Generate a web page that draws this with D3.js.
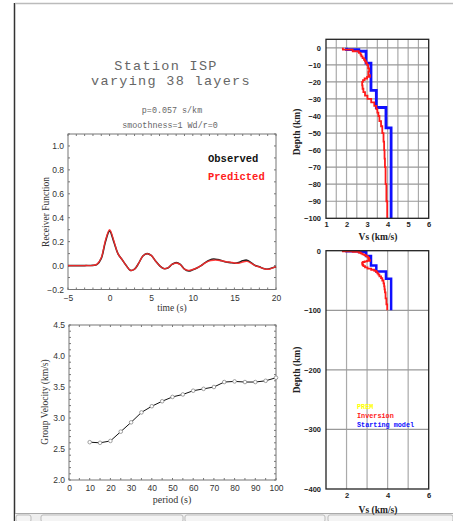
<!DOCTYPE html>
<html>
<head>
<meta charset="utf-8">
<script src="https://cdn.jsdelivr.net/npm/d3@7"></script>
<style>
  html, body { margin: 0; padding: 0; background: #fff; }
  svg { display: block; }
</style>
</head>
<body>
<div id="chart"></div>
<script>
// Receiver function (time in s, amplitude)
const rfTime = [-5,-4,-3,-2,-1.5,-1,-0.5,0,0.5,1,1.5,2,2.5,3,3.5,4,4.5,5,5.5,6,6.5,7,7.5,8,8.5,9,9.5,10,10.5,11,11.5,12,12.5,13,13.5,14,14.5,15,15.5,16,16.5,17,17.5,18,18.5,19,19.5,20];
const rfObserved = [0,0,0,0.002,0.01,0.06,0.2,0.29,0.2,0.1,0.05,0.0,-0.04,-0.03,0.02,0.08,0.1,0.085,0.04,0.0,-0.025,-0.02,0.01,0.025,0.01,-0.03,-0.045,-0.035,-0.02,0.0,0.025,0.045,0.055,0.05,0.04,0.03,0.025,0.02,0.025,0.04,0.045,0.025,0.0,-0.01,-0.025,-0.03,-0.02,-0.01];
const rfPredicted = [0,0,0,0.002,0.012,0.065,0.21,0.3,0.21,0.1,0.05,0.0,-0.04,-0.03,0.02,0.08,0.1,0.085,0.04,0.0,-0.025,-0.02,0.01,0.022,0.008,-0.03,-0.04,-0.033,-0.02,0.0,0.022,0.04,0.045,0.045,0.04,0.032,0.028,0.022,0.02,0.03,0.035,0.02,0.0,-0.012,-0.025,-0.032,-0.022,-0.008];

// Group velocity dispersion
const gvPeriod = [10,15,20,25,30,35,40,45,50,55,60,65,70,75,80,85,90,95,100];
const gvVelocity = [2.61,2.60,2.63,2.78,2.93,3.09,3.19,3.27,3.34,3.38,3.44,3.47,3.50,3.58,3.59,3.58,3.58,3.60,3.65];

// Shear-velocity models: layer top depths (km) and Vs (km/s); last layer ends at modelBottom
const modelBottom = 100;
const startTop = [0,1,2,9,25,35,47];
const startVs = [2.0,2.6,2.95,3.19,3.45,3.92,4.17];
const invTop = [0,1,2,3,4,5,6,7,8,9,10,12,14,16,17,18,19,20,22,24,26,28,30,32,34,36,38,40,43,46,50,55,60,65,70,80,90];
const invVs = [1.82,2.3,2.6,2.68,2.72,2.78,2.85,2.9,2.95,3.0,3.05,3.1,3.06,3.14,3.0,2.88,2.8,2.76,2.78,2.82,2.9,3.02,3.2,3.35,3.45,3.5,3.55,3.6,3.68,3.74,3.8,3.83,3.85,3.87,3.9,3.94,3.98];

const rfYTicks = [-0.2,0,0.2,0.4,0.6,0.8,1.0];
const rfXTicks = [-5,0,5,10,15,20];
const gvYTicks = [2.0,2.5,3.0,3.5,4.0,4.5];
const gvXTicks = [0,10,20,30,40,50,60,70,80,90,100];
const depthTicks1 = [0,-10,-20,-30,-40,-50,-60,-70,-80,-90,-100];
const vsTicks1 = [1,2,3,4,5,6];
const depthTicks2 = [0,-100,-200,-300,-400];
const vsTicks2 = [2,4,6];

const W = 453, H = 521;
const svg = d3.select("#chart").append("svg").attr("width", W).attr("height", H);

const SANS = "'Liberation Sans', Arial, sans-serif";
const SERIF = "'Liberation Serif', 'Times New Roman', serif";
const MONO = "'Liberation Mono', 'Courier New', monospace";

// window frame
svg.append("line").attr("x1", 14.5).attr("x2", 14.5).attr("y1", 3).attr("y2", H).attr("stroke", "#333").attr("stroke-width", 1.5);
svg.append("line").attr("x1", 15).attr("x2", W).attr("y1", 3.5).attr("y2", 3.5).attr("stroke", "#bbb").attr("stroke-width", 1.5);
// bottom status strip
svg.append("rect").attr("x", 15).attr("y", 513).attr("width", W - 15).attr("height", 8).attr("fill", "#eee");
svg.append("line").attr("x1", 15).attr("x2", W).attr("y1", 513.5).attr("y2", 513.5).attr("stroke", "#aaa");
[[16, 15], [41, 142], [185, 140], [328, 125]].forEach(([x, w]) => {
  svg.append("rect").attr("x", x).attr("y", 515).attr("width", w).attr("height", 7).attr("rx", 2)
    .attr("fill", "#f4f4f4").attr("stroke", "#bbb").attr("stroke-width", 1);
});

// Titles
const title = svg.append("g").attr("font-family", MONO).attr("fill", "#666").attr("text-anchor", "middle");
title.append("text").attr("x", 166).attr("y", 70).attr("font-size", 13.5).attr("letter-spacing", 1.3).text("Station ISP");
title.append("text").attr("x", 171).attr("y", 85).attr("font-size", 13.5).attr("letter-spacing", 1.3).text("varying 38 layers");
title.append("text").attr("x", 172).attr("y", 113).attr("font-size", 8.4).text("p=0.057 s/km");
title.append("text").attr("x", 170).attr("y", 128).attr("font-size", 8.4).text("smoothness=1 Wd/r=0");

// generic framed plot with inward ticks
function framedAxes(g, x, y, xt, yt, opts) {
  const [x0, x1] = x.range(), [y0, y1] = y.range();
  g.append("rect").attr("x", x0).attr("y", y1).attr("width", x1 - x0).attr("height", y0 - y1)
    .attr("fill", "none").attr("stroke", opts.frame || "#777").attr("stroke-width", opts.frameWidth || 1);
  const tl = opts.tick || 3;
  xt.forEach(v => {
    g.append("line").attr("x1", x(v)).attr("x2", x(v)).attr("y1", y0).attr("y2", y0 - tl).attr("stroke", "#777");
    g.append("line").attr("x1", x(v)).attr("x2", x(v)).attr("y1", y1).attr("y2", y1 + tl).attr("stroke", "#777");
  });
  yt.forEach(v => {
    g.append("line").attr("x1", x0).attr("x2", x0 + tl).attr("y1", y(v)).attr("y2", y(v)).attr("stroke", "#777");
    g.append("line").attr("x1", x1).attr("x2", x1 - tl).attr("y1", y(v)).attr("y2", y(v)).attr("stroke", "#777");
  });
}

// ---------------- Receiver function panel ----------------
{
  const x = d3.scaleLinear().domain([-5, 20]).range([68, 276]);
  const y = d3.scaleLinear().domain([-0.2, 1.1]).range([289.5, 134]);
  const g = svg.append("g");
  framedAxes(g, x, y, d3.range(-5, 20.01, 1), d3.range(-0.2, 1.101, 0.1), { tick: 2 });
  const xa = g.append("g").attr("transform", "translate(0,289.5)")
    .call(d3.axisBottom(x).tickValues(rfXTicks).tickSize(0).tickPadding(5).tickFormat(d3.format("d")));
  const ya = g.append("g").attr("transform", "translate(68,0)")
    .call(d3.axisLeft(y).tickValues(rfYTicks).tickSize(0).tickPadding(4).tickFormat(d3.format(".1f")));
  [xa, ya].forEach(a => { a.select(".domain").remove(); a.selectAll("text").attr("font-family", SANS).attr("font-size", 8.5).attr("fill", "#333"); });
  g.append("text").attr("x", 172).attr("y", 311).attr("text-anchor", "middle").attr("font-family", SERIF)
    .attr("font-size", 9.5).attr("fill", "#333").text("time (s)");
  g.append("text").attr("transform", "translate(49,212) rotate(-90)").attr("text-anchor", "middle")
    .attr("font-family", SERIF).attr("font-size", 9.5).attr("fill", "#333").text("Receiver Function");

  const line = d3.line().x((d, i) => x(rfTime[i])).y(d => y(d)).curve(d3.curveCatmullRom.alpha(0.5));
  g.append("path").attr("d", line(rfObserved)).attr("fill", "none").attr("stroke", "#222").attr("stroke-width", 1.6);
  g.append("path").attr("d", line(rfPredicted)).attr("fill", "none").attr("stroke", "#ff2a2a").attr("stroke-width", 1.4).attr("opacity", 0.9);

  g.append("text").attr("x", 208).attr("y", 162).attr("font-family", MONO).attr("font-weight", "bold")
    .attr("font-size", 10.5).attr("fill", "#111").text("Observed");
  g.append("text").attr("x", 208).attr("y", 180).attr("font-family", MONO).attr("font-weight", "bold")
    .attr("font-size", 10.5).attr("fill", "#ff2020").text("Predicted");
}

// ---------------- Group velocity panel ----------------
{
  const x = d3.scaleLinear().domain([0, 100]).range([69, 276]);
  const y = d3.scaleLinear().domain([2, 4.5]).range([480, 325]);
  const g = svg.append("g");
  framedAxes(g, x, y, d3.range(0, 100.1, 5), d3.range(2, 4.51, 0.1), { tick: 2 });
  const xa = g.append("g").attr("transform", "translate(0,480)")
    .call(d3.axisBottom(x).tickValues(gvXTicks).tickSize(0).tickPadding(5).tickFormat(d3.format("d")));
  const ya = g.append("g").attr("transform", "translate(69,0)")
    .call(d3.axisLeft(y).tickValues(gvYTicks).tickSize(0).tickPadding(4).tickFormat(d3.format(".1f")));
  [xa, ya].forEach(a => { a.select(".domain").remove(); a.selectAll("text").attr("font-family", SANS).attr("font-size", 8.5).attr("fill", "#333"); });
  g.append("text").attr("x", 172).attr("y", 503).attr("text-anchor", "middle").attr("font-family", SERIF)
    .attr("font-size", 10).attr("fill", "#333").text("period (s)");
  g.append("text").attr("transform", "translate(48,402) rotate(-90)").attr("text-anchor", "middle")
    .attr("font-family", SERIF).attr("font-size", 9.5).attr("fill", "#333").text("Group Velocity (km/s)");

  const line = d3.line().x((d, i) => x(gvPeriod[i])).y(d => y(d));
  g.append("path").attr("d", line(gvVelocity)).attr("fill", "none").attr("stroke", "#111").attr("stroke-width", 1);
  g.selectAll("circle.gv").data(gvVelocity).enter().append("circle")
    .attr("cx", (d, i) => x(gvPeriod[i])).attr("cy", d => y(d)).attr("r", 1.8)
    .attr("fill", "#fff").attr("stroke", "#888").attr("stroke-width", 0.8);
}

// step path for a layered model
function modelPath(x, y, tops, vs) {
  const pts = [];
  tops.forEach((t, i) => {
    const b = i < tops.length - 1 ? tops[i + 1] : modelBottom;
    pts.push([x(vs[i]), y(-t)]);
    pts.push([x(vs[i]), y(-b)]);
  });
  return d3.line()(pts);
}

function depthPanel(yDomain, yRange, vsGrid, depthGrid, vsLabels, depthLabels, lw, labelY, titleY, axisTitleY) {
  const x = d3.scaleLinear().domain([1, 6]).range([326, 428.7]);
  const y = d3.scaleLinear().domain(yDomain).range(yRange);
  const g = svg.append("g");
  vsGrid.forEach(v => g.append("line").attr("x1", x(v)).attr("x2", x(v)).attr("y1", y.range()[0]).attr("y2", y.range()[1])
    .attr("stroke", "#aaa").attr("stroke-width", 1.2));
  depthGrid.forEach(v => g.append("line").attr("x1", x.range()[0]).attr("x2", x.range()[1]).attr("y1", y(v)).attr("y2", y(v))
    .attr("stroke", "#999").attr("stroke-width", 1.2));
  g.append("path").attr("d", modelPath(x, y, startTop, startVs)).attr("fill", "none").attr("stroke", "#1010ff").attr("stroke-width", lw[0]);
  g.append("path").attr("d", modelPath(x, y, invTop, invVs)).attr("fill", "none").attr("stroke", "#ff1a1a").attr("stroke-width", lw[1]);
  g.append("rect").attr("x", x.range()[0]).attr("y", y.range()[0]).attr("width", x.range()[1] - x.range()[0])
    .attr("height", y.range()[1] - y.range()[0]).attr("fill", "none").attr("stroke", "#222").attr("stroke-width", 1.3);
  const xa = g.append("g").attr("transform", `translate(0,${labelY})`)
    .call(d3.axisBottom(x).tickValues(vsLabels).tickSize(0).tickPadding(3).tickFormat(d3.format("d")));
  const ya = g.append("g").attr("transform", "translate(323,0)")
    .call(d3.axisLeft(y).tickValues(depthLabels).tickSize(0).tickPadding(2).tickFormat(d3.format("d")));
  [xa, ya].forEach(a => { a.select(".domain").remove(); a.selectAll("text").attr("font-family", SANS).attr("font-size", 7.5).attr("font-weight", "bold").attr("fill", "#222"); });
  g.append("text").attr("x", 378).attr("y", titleY).attr("text-anchor", "middle").attr("font-family", SERIF)
    .attr("font-weight", "bold").attr("font-size", 9.5).attr("fill", "#222").text("Vs (km/s)");
  g.append("text").attr("transform", `translate(300,${axisTitleY}) rotate(-90)`).attr("text-anchor", "middle")
    .attr("font-family", SERIF).attr("font-weight", "bold").attr("font-size", 9.5).attr("fill", "#222").text("Depth (km)");
  return { x, y, g };
}

// upper model panel (0-100 km)
depthPanel([5, -100], [39.3, 218.3], d3.range(1.5, 6, 0.5), d3.range(0, -100, -10),
  vsTicks1, depthTicks1, [2.8, 1.8], 219, 240, 132);

// lower model panel (0-400 km) with legend
{
  const p = depthPanel([0, -400], [250.7, 489], [2, 3, 4, 5], [-100, -200, -300],
    vsTicks2, depthTicks2, [2.5, 1.8], 490, 513, 370);
  const lg = p.g.append("g").attr("font-family", MONO).attr("font-weight", "bold").attr("font-size", 6.8);
  lg.append("text").attr("x", 357).attr("y", 409).attr("fill", "#ffff00").text("PREM");
  lg.append("text").attr("x", 357).attr("y", 418).attr("fill", "#ff1a1a").text("Inversion");
  lg.append("text").attr("x", 357).attr("y", 427).attr("fill", "#1010ff").text("Starting model");
}
</script>
</body>
</html>
